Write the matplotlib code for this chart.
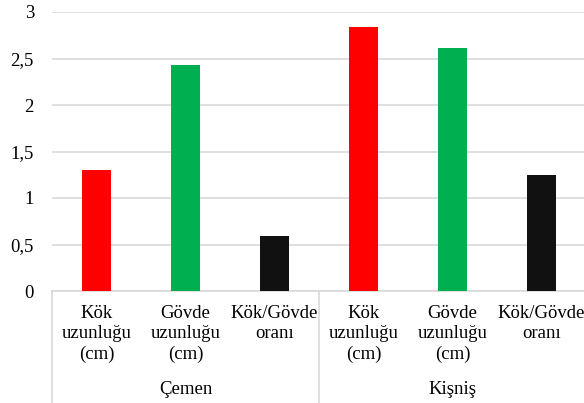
import matplotlib
matplotlib.use("Agg")
import matplotlib.pyplot as plt
from matplotlib.ticker import FuncFormatter

groups = ["Çemen", "Kişniş"]
categories = ["Kök\nuzunluğu\n(cm)", "Gövde\nuzunluğu\n(cm)", "Kök/Gövde\noranı"]
cemen_values = [1.30, 2.43, 0.59]
kisnis_values = [2.84, 2.61, 1.245]
bar_colors = ["#ff0000", "#00b050", "#111111"]

plt.rcParams['font.family'] = ['Liberation Serif', 'DejaVu Serif']

fig = plt.figure(figsize=(5.84, 4.03), dpi=100)
W, H = 584, 403
left_px, right_px, top_px, bottom_px = 52, 586, 12, 291
ax = fig.add_axes([left_px / W, (H - bottom_px) / H, (right_px - left_px) / W, (bottom_px - top_px) / H])

values = cemen_values + kisnis_values
labels = categories + categories
colors = bar_colors + bar_colors
x = list(range(len(values)))
ax.bar(x, values, width=0.315, color=colors, zorder=3)

ax.set_xlim(-0.5, len(values) - 0.5)
ax.set_ylim(0, 3)
ax.set_yticks([0, 0.5, 1, 1.5, 2, 2.5, 3])
ax.yaxis.set_major_formatter(FuncFormatter(lambda v, p: ("%g" % v).replace(".", ",")))
ax.grid(axis="y", color="#d9d9d9", linewidth=1.2, zorder=0)
ax.set_axisbelow(True)
for s in ["top", "right", "left"]:
    ax.spines[s].set_visible(False)
ax.spines["bottom"].set_color("#d9d9d9")
ax.spines["bottom"].set_linewidth(1.2)

ax.set_xticks(x)
ax.set_xticklabels(labels, fontsize=13.5, linespacing=1.25)
ax.tick_params(axis="x", length=0, pad=10)
ax.tick_params(axis="y", length=0, pad=13, labelsize=13.5)

# group separators
axh = bottom_px - top_px
ybot = -(H - bottom_px) / axh
for xs in [-0.5, 2.5, 5.5]:
    ax.plot([xs, xs], [0, ybot], transform=ax.get_xaxis_transform(), color="#d9d9d9",
            linewidth=1.2, clip_on=False)

for gi, g in enumerate(groups):
    ax.text(gi * 3 + 1, -(389 - bottom_px) / axh, g, transform=ax.get_xaxis_transform(),
            ha="center", va="center", fontsize=13.5)

fig.savefig("out.png", dpi=100)
